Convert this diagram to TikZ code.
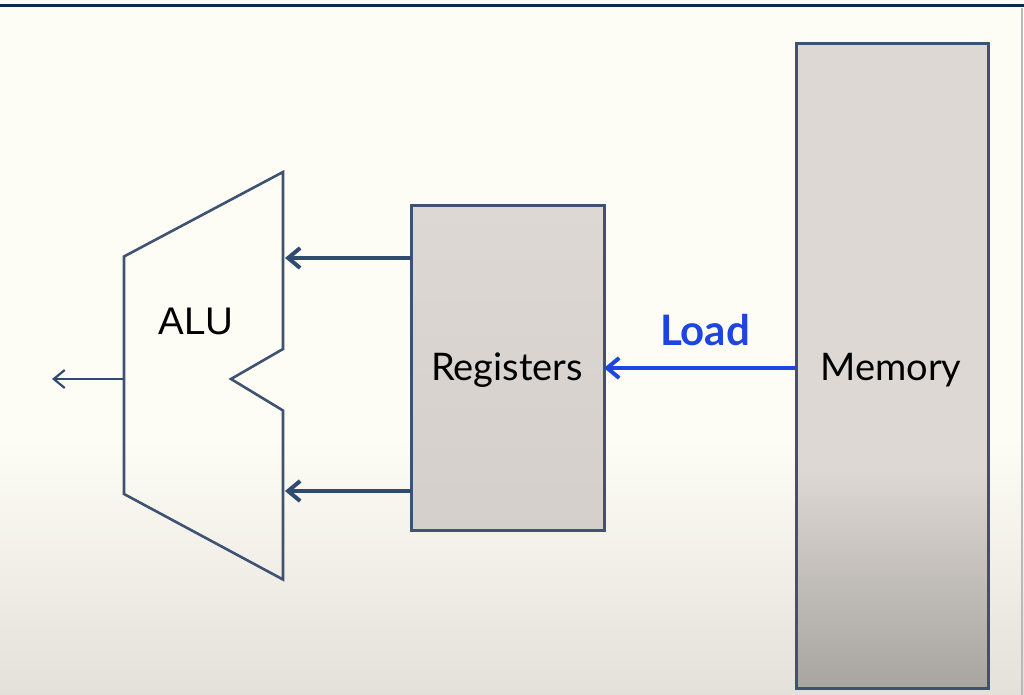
\documentclass[tikz,border=0pt]{standalone}
\usepackage{fontspec}
\setmainfont{Lato}
\newfontfamily\arialf{Liberation Sans}
\usetikzlibrary{arrows.meta}
\definecolor{bgtop}{HTML}{FDFDF5}
\definecolor{bgbot}{HTML}{E4E0DA}
\definecolor{navy}{HTML}{0B2A4A}
\definecolor{edge}{HTML}{3E5272}
\definecolor{arrc}{HTML}{2F4B70}
\definecolor{boxtop}{HTML}{DDD8D3}
\definecolor{boxmid}{HTML}{D8D3CE}
\definecolor{boxbot}{HTML}{A8A4A0}
\definecolor{loadblue}{HTML}{1F45E0}
\tikzset{
  unitbox/.style={draw=edge, line width=3pt, outer sep=0pt, inner sep=0pt},
  bigtext/.style={font=\fontsize{38}{42}\selectfont, text=black},
  arrdark/.style={draw=arrc, line width=4pt, -{Straight Barb[length=12pt,width=20pt,line width=4pt]}},
  arrthin/.style={draw=arrc, line width=2.2pt, -{Straight Barb[length=11pt,width=18pt,line width=2.2pt]}},
  arrblue/.style={draw=loadblue, line width=3.6pt, -{Straight Barb[length=12pt,width=20pt,line width=4pt]}},
}
\begin{document}
\begin{tikzpicture}[x=1pt,y=-1pt]
\useasboundingbox (0,0) rectangle (1024,695);
% background
\fill[bgtop] (0,0) rectangle (1024,695);
\shade[top color=bgtop, bottom color=bgbot] (0,440) rectangle (1024,695);
\draw[line width=1.5pt, color=gray!55] (1022,8) -- (1022,695);
% top rule
\coordinate (ruleL) at (0,5.5);
\coordinate (ruleR) at (1024,5.5);
\draw[navy, line width=3.5pt] (ruleL) -- (ruleR);
% memory fill
\fill[boxtop] (796,44) rectangle (988,470);
\shade[top color=boxtop, bottom color=boxbot] (796,469) rectangle (988,688);
\node[unitbox, minimum width=192pt, minimum height=644pt] (mem) at (892,366) {};
\node[bigtext] (memt) at (891,370) {Memory};
% registers
\node[unitbox, minimum width=193pt, minimum height=325pt, top color=boxtop, bottom color=boxmid!92!boxbot] (reg) at (507.5,367.5) {};
\node[bigtext] (regt) at (507,370) {Registers};
% ALU
\coordinate (a1) at (124,256.5);
\coordinate (a2) at (283,172);
\coordinate (a3) at (283,349);
\coordinate (a4) at (231,379);
\coordinate (a5) at (283,410.5);
\coordinate (a6) at (283,579.5);
\coordinate (a7) at (124,494);
\draw[edge, line width=2.6pt, line join=miter] (a1) -- (a2) -- (a3) -- (a4) -- (a5) -- (a6) -- (a7) -- cycle;
\node[font=\arialf\fontsize{38.5}{42}\selectfont] (alut) at (196,321) {ALU};
% ALU inputs
\coordinate (inA) at (285,258);
\coordinate (inB) at (285,491);
\draw[arrdark] (reg.west |- inA) -- (inA);
\draw[arrdark] (reg.west |- inB) -- (inB);
% ALU output
\coordinate (aluout) at (124,379);
\coordinate (outend) at (52,379);
\draw[arrthin] (aluout) -- (outend);
% load
\draw[arrblue] (mem.west |- 0,368) -- (reg.east |- 0,368);
\node[font=\fontsize{42}{46}\selectfont\bfseries, text=loadblue] (loadt) at (705,330) {Load};
\end{tikzpicture}
\end{document}
